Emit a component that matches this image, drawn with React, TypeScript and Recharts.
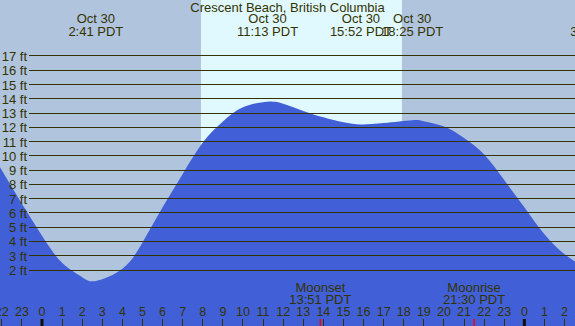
import { Area, ComposedChart, ReferenceArea, ReferenceLine, XAxis, YAxis } from 'recharts'

const W = 575
const H = 326
const FONT = '"Liberation Sans", Arial, sans-serif'
const INK = '#333300'
const NIGHT = '#b0c4de'
const DAY = '#e0f8ff'
const WATER = '#4160d8'

// hours since midnight Oct 30 (PDT), tide height in ft
const HOURS = [-3, -2, -1, 0, 1, 2, 2.68, 4, 5, 6, 7, 8, 9, 10, 11.22, 12, 13, 14, 15, 15.87, 17, 18.42, 19, 20, 21, 22, 23, 24, 25, 26, 27]
const HEIGHTS = [11.2, 9.0, 6.65, 4.4, 2.5, 1.5, 1.23, 2.08, 3.93, 6.4, 8.73, 10.93, 12.41, 13.4, 13.8, 13.65, 13.15, 12.7, 12.35, 12.2, 12.3, 12.5, 12.42, 12.05, 11.25, 10.1, 8.3, 6.4, 4.5, 3.1, 2.2]

const FT_TICKS = [2, 3, 4, 5, 6, 7, 8, 9, 10, 11, 12, 13, 14, 15, 16, 17]
const HOUR_TICKS = [-2, -1, 0, 1, 2, 3, 4, 5, 6, 7, 8, 9, 10, 11, 12, 13, 14, 15, 16, 17, 18, 19, 20, 21, 22, 23, 24, 25, 26]

const TIDE_EVENT_HOURS = [2.68, 11.22, 15.87, 18.42, 27.65]
const TIDE_EVENT_DATES = ['Oct 30', 'Oct 30', 'Oct 30', 'Oct 30', 'Oct 31']
const TIDE_EVENT_TIMES = ['2:41 PDT', '11:13 PDT', '15:52 PDT', '18:25 PDT', '3:39 PDT']

const MOON_HOURS = [13.85, 21.5]
const MOON_NAMES = ['Moonset', 'Moonrise']
const MOON_TIMES = ['13:51 PDT', '21:30 PDT']

const SUNRISE = 7.91
const SUNSET = 17.91

const X_MIN = -2.09
const X_MAX = 26.52
const Y_MIN = -1.925
const Y_MAX = 20.925

const rows = HOURS.map((h, i) => ({ h, ft: HEIGHTS[i] }))

const hourLabel = (h: number) => String(((h % 24) + 24) % 24)

export default function App() {
  return (
    <div style={{ position: 'absolute', left: 0, top: 0, width: W, height: H, overflow: 'hidden' }}>
      <ComposedChart
        width={W}
        height={H}
        data={rows}
        margin={{ top: 0, right: 0, bottom: 0, left: 0 }}
        style={{ background: NIGHT }}
      >
        <XAxis dataKey="h" type="number" domain={[X_MIN, X_MAX]} allowDataOverflow hide />
        <YAxis type="number" domain={[Y_MIN, Y_MAX]} allowDataOverflow hide />
        <ReferenceArea x1={SUNRISE} x2={SUNSET} fill={DAY} fillOpacity={1} stroke="none" />
        <Area
          dataKey="ft"
          type="natural"
          fill={WATER}
          fillOpacity={1}
          stroke="none"
          baseValue={Y_MIN}
          isAnimationActive={false}
        />
        {FT_TICKS.map((v) => (
          <ReferenceLine
            key={v}
            y={v}
            shape={(p: any) => (
              <g>
                <line x1={29} x2={W} y1={p.y1} y2={p.y1} stroke={INK} strokeWidth={1} shapeRendering="crispEdges" />
                <text x={27} y={p.y1 + 5} textAnchor="end" fontSize={13} fontFamily={FONT} fill={INK}>
                  {`${v} ft`}
                </text>
              </g>
            )}
          />
        ))}
        {HOUR_TICKS.map((h) => (
          <ReferenceLine
            key={`hour-${h}`}
            x={h}
            shape={(p: any) => (
              <g>
                <text x={p.x1} y={H - 10} textAnchor="middle" fontSize={12.5} fontFamily={FONT} fill={INK}>
                  {hourLabel(h)}
                </text>
                {h % 24 === 0 ? (
                  <rect x={p.x1 - 1.5} y={H - 7} width={3} height={7} fill="#111100" />
                ) : (
                  <line x1={p.x1} x2={p.x1} y1={H - 7} y2={H} stroke={INK} strokeWidth={1} shapeRendering="crispEdges" />
                )}
              </g>
            )}
          />
        ))}
        {TIDE_EVENT_HOURS.map((t, i) => (
          <ReferenceLine
            key={`tide-${i}`}
            x={t}
            ifOverflow="visible"
            shape={(p: any) => (
              <g fontSize={13} fontFamily={FONT} fill={INK} textAnchor="middle">
                <text x={p.x1} y={23}>{TIDE_EVENT_DATES[i]}</text>
                <text x={p.x1} y={36}>{TIDE_EVENT_TIMES[i]}</text>
              </g>
            )}
          />
        ))}
        {MOON_HOURS.map((t, i) => (
          <ReferenceLine
            key={`moon-${i}`}
            x={t}
            shape={(p: any) => (
              <g fontSize={13} fontFamily={FONT} fill={INK} textAnchor="middle">
                <text x={p.x1} y={292}>{MOON_NAMES[i]}</text>
                <text x={p.x1} y={304}>{MOON_TIMES[i]}</text>
                <line x1={p.x1} x2={p.x1} y1={H - 7} y2={H} stroke="#ff0000" strokeWidth={1.5} />
              </g>
            )}
          />
        ))}
      </ComposedChart>
      <div
        style={{
          position: 'absolute',
          left: 0,
          top: 0,
          width: W,
          textAlign: 'center',
          font: `13px/15px ${FONT}`,
          color: INK,
        }}
      >
        Crescent Beach, British Columbia
      </div>
    </div>
  )
}
